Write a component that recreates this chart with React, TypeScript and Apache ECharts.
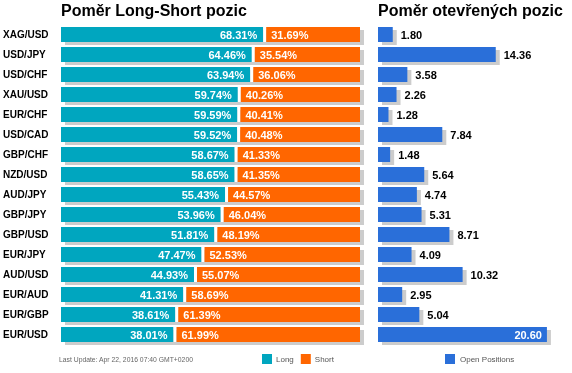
import React, { useEffect, useRef } from "react";
import * as echarts from "echarts";

const categories = ["XAG/USD", "USD/JPY", "USD/CHF", "XAU/USD", "EUR/CHF", "USD/CAD", "GBP/CHF", "NZD/USD", "AUD/JPY", "GBP/JPY", "GBP/USD", "EUR/JPY", "AUD/USD", "EUR/AUD", "EUR/GBP", "EUR/USD"];
const longPct = [68.31, 64.46, 63.94, 59.74, 59.59, 59.52, 58.67, 58.65, 55.43, 53.96, 51.81, 47.47, 44.93, 41.31, 38.61, 38.01];
const shortPct = [31.69, 35.54, 36.06, 40.26, 40.41, 40.48, 41.33, 41.35, 44.57, 46.04, 48.19, 52.53, 55.07, 58.69, 61.39, 61.99];
const openPositions = [1.80, 14.36, 3.58, 2.26, 1.28, 7.84, 1.48, 5.64, 4.74, 5.31, 8.71, 4.09, 10.32, 2.95, 5.04, 20.60];

const TEAL = "#00A6BF";
const ORANGE = "#FF6600";
const BLUE = "#2A6FD9";
const SHADOW = "#CCCCCC";
const FONT = "'Liberation Sans', Arial, sans-serif";

export default function App() {
  const ref = useRef<HTMLDivElement>(null);
  useEffect(() => {
    if (!ref.current) return;
    const chart = echarts.init(ref.current, undefined, { renderer: "svg" });
    const BAR_H = 15;
    const GAP = 3;
    const SX = 4;
    const SY = 3;
    const maxOpen = Math.max(...openPositions);

    const longRender = (params: any, api: any) => {
      const v = api.value(0);
      const i = api.value(1);
      const p0 = api.coord([0, i]);
      const p1 = api.coord([v, i]);
      const pEnd = api.coord([100, i]);
      const y = p0[1] - BAR_H / 2;
      return {
        type: "group",
        children: [
          { type: "rect", shape: { x: p0[0] + SX, y: y + SY, width: pEnd[0] + GAP - p0[0], height: BAR_H }, style: { fill: SHADOW } },
          { type: "rect", shape: { x: p0[0], y, width: p1[0] - p0[0], height: BAR_H }, style: { fill: TEAL } },
          { type: "text", style: { text: v.toFixed(2) + "%", x: p1[0] - 6, y: p0[1] + 0.5, align: "right", verticalAlign: "middle", fill: "#fff", fontSize: 11, fontWeight: "bold", fontFamily: FONT } },
        ],
      };
    };
    const shortRender = (params: any, api: any) => {
      const v = api.value(0);
      const i = api.value(1);
      const start = api.value(2);
      const p0 = api.coord([start, i]);
      const pEnd = api.coord([100, i]);
      const y = p0[1] - BAR_H / 2;
      return {
        type: "group",
        children: [
          { type: "rect", shape: { x: p0[0], y, width: GAP, height: BAR_H }, style: { fill: "#fff" } },
          { type: "rect", shape: { x: p0[0] + GAP, y, width: pEnd[0] - p0[0], height: BAR_H }, style: { fill: ORANGE } },
          { type: "text", style: { text: v.toFixed(2) + "%", x: p0[0] + GAP + 5, y: p0[1] + 0.5, align: "left", verticalAlign: "middle", fill: "#fff", fontSize: 11, fontWeight: "bold", fontFamily: FONT } },
        ],
      };
    };
    const openRender = (params: any, api: any) => {
      const v = api.value(0);
      const i = api.value(1);
      const p0 = api.coord([0, i]);
      const p1 = api.coord([v, i]);
      const y = p0[1] - BAR_H / 2;
      const inside = v === maxOpen;
      return {
        type: "group",
        children: [
          { type: "rect", shape: { x: p0[0] + SX, y: y + SY, width: p1[0] - p0[0], height: BAR_H }, style: { fill: SHADOW } },
          { type: "rect", shape: { x: p0[0], y, width: p1[0] - p0[0], height: BAR_H }, style: { fill: BLUE } },
          {
            type: "text",
            style: inside
              ? { text: v.toFixed(2), x: p1[0] - 5, y: p0[1] + 0.5, align: "right", verticalAlign: "middle", fill: "#fff", fontSize: 11, fontWeight: "bold", fontFamily: FONT }
              : { text: v.toFixed(2), x: p1[0] + 8, y: p0[1] + 0.5, align: "left", verticalAlign: "middle", fill: "#000", fontSize: 11, fontWeight: "bold", fontFamily: FONT },
          },
        ],
      };
    };

    const hiddenAxis = { axisLine: { show: false }, axisTick: { show: false }, splitLine: { show: false }, axisLabel: { show: false } };

    chart.setOption({
      animation: false,
      textStyle: { fontFamily: FONT },
      title: [
        { text: "Poměr Long-Short pozic", left: 61, top: 2, padding: 0, textStyle: { fontSize: 16, fontWeight: "bold", color: "#000", fontFamily: FONT } },
        { text: "Poměr otevřených pozic", left: 378, top: 2, padding: 0, textStyle: { fontSize: 16, fontWeight: "bold", color: "#000", fontFamily: FONT } },
      ],
      legend: [
        { data: ["Long", "Short"], left: 262, top: 354, padding: 0, itemWidth: 10, itemHeight: 10, itemGap: 7, icon: "rect", textStyle: { fontSize: 8, color: "#555", padding: [0, 0, 0, -1] } },
        { data: ["Open Positions"], left: 445, top: 354, padding: 0, itemWidth: 10, itemHeight: 10, icon: "rect", textStyle: { fontSize: 8, color: "#555" } },
      ],
      graphic: [
        { type: "text", left: 59, top: 356, style: { text: "Last Update: Apr 22, 2016 07:40 GMT+0200", fill: "#666", fontSize: 6.8, fontFamily: FONT } },
      ],
      grid: [
        { left: 61, top: 24.5, width: 296, height: 320 },
        { left: 378, top: 24.5, width: 180.4, height: 320 },
      ],
      xAxis: [
        { type: "value", gridIndex: 0, min: 0, max: 100, ...hiddenAxis },
        { type: "value", gridIndex: 1, min: 0, max: 22, ...hiddenAxis },
      ],
      yAxis: [
        {
          type: "category", gridIndex: 0, data: categories, inverse: true,
          axisLine: { show: false }, axisTick: { show: false }, splitLine: { show: false },
          axisLabel: { align: "left", margin: 58, fontSize: 10, fontWeight: "bold", color: "#000", fontFamily: FONT },
        },
        { type: "category", gridIndex: 1, data: categories, inverse: true, ...hiddenAxis },
      ],
      series: [
        { name: "Long", type: "custom", xAxisIndex: 0, yAxisIndex: 0, itemStyle: { color: TEAL }, renderItem: longRender, data: longPct.map((v, i) => [v, i]), encode: { x: 0, y: 1 } },
        { name: "Short", type: "custom", xAxisIndex: 0, yAxisIndex: 0, itemStyle: { color: ORANGE }, renderItem: shortRender, data: shortPct.map((v, i) => [v, i, longPct[i]]), encode: { x: 0, y: 1 } },
        { name: "Open Positions", type: "custom", xAxisIndex: 1, yAxisIndex: 1, itemStyle: { color: BLUE }, renderItem: openRender, data: openPositions.map((v, i) => [v, i]), encode: { x: 0, y: 1 } },
      ],
    });
    return () => chart.dispose();
  }, []);
  return <div ref={ref} style={{ position: "fixed", left: 0, top: 0, width: 572, height: 373 }} />;
}
